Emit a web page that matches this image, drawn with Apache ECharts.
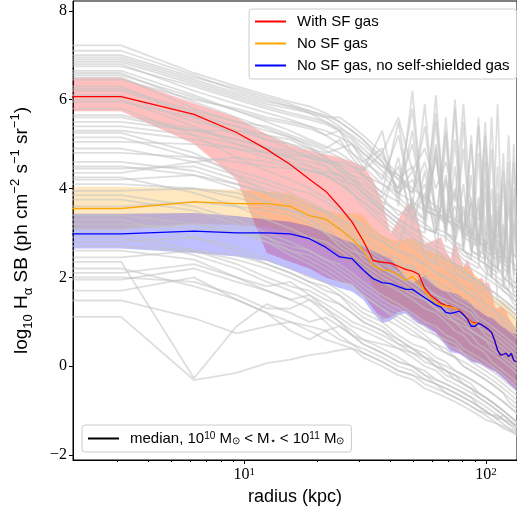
<!DOCTYPE html>
<html>
<head>
<meta charset="utf-8">
<script src="https://cdn.jsdelivr.net/npm/echarts@6/dist/echarts.min.js"></script>
<style>
  html, body { margin: 0; padding: 0; background: #fff; }
  #chart { width: 517px; height: 516px; }
</style>
</head>
<body>
<div id="chart"></div>
<script>
// radial bins (kpc) of the median profiles
const radius = [1.9, 3.1, 6.2, 9.3, 12.4, 15.5, 18.6, 21.7, 24.8, 27.9, 31, 34.1, 37.2, 40.3, 43.4,
  46.5, 49.6, 52.7, 55.8, 58.9, 62, 65.1, 68.2, 71.3, 74.4, 77.5, 80.6, 83.7, 86.8, 89.9,
  93, 96.1, 99.2, 102.3, 105.4, 108.5, 111.6, 114.7, 117.8, 120.9, 124, 127.1, 130.2, 133.3]

// With SF gas: median and 16-84 band
const withSF = [6.07, 6.07, 5.67, 5.26, 4.88, 4.54, 4.21, 3.94, 3.59, 3.25, 2.83, 2.38, 2.34, 2.32, 2.25,
  2.18, 2.14, 2.07, 1.75, 1.6, 1.51, 1.42, 1.37, 1.35, 1.3, 1.26, 1.18, 1.08, 1.0, 0.97,
  0.97, 0.93, 0.88, 0.83, 0.76, 0.58, 0.36, 0.25, 0.27, 0.29, 0.22, 0.29, 0.13, 0.1]
const withSFHi = [6.49, 6.49, 5.92, 5.6, 5.22, 4.97, 4.86, 4.77, 4.7, 4.61, 4.5, 4.2, 3.7, 2.98, 3.3,
  3.6, 3.69, 3.2, 2.75, 2.8, 2.85, 2.91, 2.6, 2.43, 2.83, 2.5, 2.23, 2.4, 2.2, 2.01,
  1.95, 2.0, 1.85, 1.9, 1.7, 1.35, 1.3, 1.35, 1.3, 1.25, 1.1, 1.0, 0.9, 0.85]
const withSFLo = [5.74, 5.74, 5.0, 4.2, 2.55, 2.35, 2.2, 2.0, 1.9, 1.85, 1.6, 1.3, 1.05, 1.1, 1.22,
  1.25, 1.1, 0.97, 0.92, 0.84, 0.76, 0.62, 0.5, 0.38, 0.33, 0.3, 0.24, 0.18, 0.13, 0.1,
  0.08, 0.05, 0.0, -0.04, -0.07, -0.1, -0.15, -0.2, -0.26, -0.31, -0.38, -0.43, -0.48, -0.53]

// No SF gas
const noSF = [3.55, 3.55, 3.7, 3.66, 3.66, 3.6, 3.39, 3.31, 3.09, 2.87, 2.61, 2.27, 2.17, 2.15, 2.05,
  1.93, 2.02, 1.87, 1.69, 1.53, 1.42, 1.37, 1.35, 1.33, 1.3, 1.25, 1.17, 1.07, 0.98, 0.95,
  0.97, 0.93, 0.88, 0.83, 0.76, 0.58, 0.36, 0.25, 0.27, 0.29, 0.22, 0.29, 0.13, 0.1]
const noSFHi = [4.04, 4.04, 4.0, 3.97, 3.93, 3.88, 3.67, 3.52, 3.42, 3.45, 3.4, 3.1, 2.95, 2.85, 2.83,
  2.86, 2.88, 2.8, 2.62, 2.58, 2.55, 2.53, 2.45, 2.38, 2.32, 2.28, 2.25, 2.23, 2.15, 2.05,
  2.0, 1.9, 1.8, 1.7, 1.6, 1.55, 1.5, 1.5, 1.45, 1.4, 1.35, 1.3, 1.2, 1.15]
const noSFLo = [3.08, 3.08, 3.2, 3.18, 3.12, 3.02, 2.85, 2.7, 2.5, 2.35, 2.15, 1.8, 1.55, 1.4, 1.35,
  1.3, 1.2, 1.1, 1.0, 0.92, 0.85, 0.72, 0.6, 0.48, 0.42, 0.38, 0.32, 0.26, 0.2, 0.16,
  0.13, 0.1, 0.06, 0.02, -0.02, -0.05, -0.1, -0.15, -0.2, -0.25, -0.3, -0.36, -0.41, -0.46]

// No SF gas, no self-shielded gas
const noSSG = [2.98, 2.98, 3.04, 3.0, 3.0, 2.98, 2.87, 2.68, 2.46, 2.42, 2.17, 1.97, 1.88, 1.86, 1.79,
  1.73, 1.73, 1.63, 1.54, 1.46, 1.38, 1.33, 1.21, 1.19, 1.21, 1.24, 1.16, 1.06, 0.9, 0.9,
  0.97, 0.93, 0.88, 0.83, 0.76, 0.58, 0.36, 0.25, 0.27, 0.29, 0.22, 0.29, 0.13, 0.1]
const noSSGHi = [3.43, 3.43, 3.45, 3.38, 3.3, 3.25, 3.15, 3.02, 2.88, 2.78, 2.7, 2.6, 2.5, 2.43, 2.2,
  2.0, 1.87, 1.95, 2.05, 1.9, 1.8, 1.71, 1.68, 1.66, 1.64, 1.6, 1.52, 1.48, 1.4, 1.3,
  1.26, 1.2, 1.15, 1.1, 1.1, 1.05, 0.98, 0.92, 0.88, 0.85, 0.8, 0.76, 0.74, 0.72]
const noSSGLo = [2.65, 2.65, 2.55, 2.47, 2.37, 2.18, 2.02, 1.86, 1.76, 1.68, 1.5, 1.2, 0.97, 1.03, 1.15,
  1.19, 1.05, 0.95, 0.9, 0.82, 0.74, 0.6, 0.45, 0.32, 0.3, 0.28, 0.22, 0.15, 0.1, 0.08,
  0.06, 0.02, -0.02, -0.06, -0.09, -0.12, -0.17, -0.22, -0.28, -0.33, -0.4, -0.45, -0.5, -0.55]

// individual galaxy profiles (grey)
const greyRadius = [1.9, 3.1, 6.2, 9.3, 12.4, 15.5, 18.6, 21.7, 24.8, 27.9, 31, 37.2, 43.4, 49.6,
  55.8, 62, 68.2, 74.4, 80.6, 86.8, 93, 99.2, 105.4, 111.6, 117.8, 124, 130.2, 136.4]
const greyProfiles = [
  [7.22, 7.22, 6.6, 6.3, 6.1, 5.95, 5.85, 5.7, 5.5, 5.3, 5.1, 4.6, 4.0, 5.8, 3.2, 5.5, 3.0, 4.5, 2.6, 3.8, 2.4, 2.8, 2.0, 3.5, 1.8, 2.3, 1.6, 1.5],
  [7.1, 7.1, 6.55, 6.2, 6.0, 5.85, 5.7, 5.5, 5.3, 5.0, 4.7, 4.2, 5.2, 3.6, 3.3, 4.8, 3.0, 2.8, 4.1, 2.6, 2.5, 3.9, 2.3, 2.2, 3.2, 2.0, 1.9, 1.8],
  [7.0, 7.0, 6.5, 6.25, 6.05, 5.9, 5.75, 5.6, 5.4, 5.15, 4.9, 4.5, 4.3, 3.9, 4.6, 3.5, 3.2, 3.6, 2.9, 3.1, 2.6, 2.5, 2.3, 2.2, 2.0, 1.9, 1.7, 1.6],
  [6.95, 6.95, 6.45, 6.15, 5.95, 5.85, 5.75, 5.65, 5.5, 5.3, 5.1, 4.7, 4.3, 4.0, 3.8, 3.6, 3.4, 3.3, 3.2, 3.1, 5.6, 3.0, 2.9, 2.8, 2.7, 5.2, 2.5, 2.4],
  [6.9, 6.9, 6.4, 6.1, 5.9, 5.8, 5.7, 5.6, 5.6, 5.4, 5.2, 4.8, 5.6, 4.4, 4.9, 4.0, 4.6, 3.7, 5.9, 3.4, 3.3, 5.2, 3.0, 2.9, 4.4, 2.6, 2.5, 2.4],
  [6.85, 6.85, 6.35, 6.05, 5.85, 5.7, 5.6, 5.5, 5.35, 5.2, 5.0, 4.6, 4.2, 4.5, 3.7, 5.7, 3.3, 3.1, 4.9, 2.9, 2.8, 2.7, 5.6, 2.5, 2.4, 2.3, 4.6, 2.1],
  [6.8, 6.8, 6.2, 5.9, 5.7, 5.55, 5.4, 5.2, 5.3, 4.8, 4.5, 4.1, 3.8, 3.5, 3.3, 6.1, 3.0, 2.8, 2.7, 5.2, 2.4, 2.3, 2.1, 2.0, 1.9, 1.7, 1.5, 1.4],
  [6.75, 6.75, 6.3, 6.0, 5.8, 5.65, 5.55, 5.45, 5.3, 5.1, 4.8, 4.4, 4.0, 5.0, 3.5, 3.4, 3.2, 6.0, 2.9, 2.8, 2.7, 4.2, 2.5, 2.4, 2.3, 2.2, 4.0, 2.0],
  [6.65, 6.65, 6.1, 5.75, 5.5, 5.3, 5.1, 4.95, 4.8, 4.6, 4.3, 3.9, 3.7, 3.4, 3.2, 3.0, 2.9, 2.7, 2.5, 2.4, 2.3, 2.1, 2.0, 1.9, 1.7, 1.6, 1.4, 1.3],
  [6.6, 6.6, 5.95, 5.6, 5.35, 5.15, 4.95, 4.7, 4.4, 4.2, 3.9, 3.5, 3.2, 3.0, 2.8, 2.6, 2.5, 2.3, 2.2, 2.0, 1.9, 1.8, 1.6, 1.5, 1.4, 1.3, 1.2, 1.1],
  [6.55, 6.55, 6.05, 5.75, 5.55, 5.45, 5.35, 5.2, 5.0, 4.8, 4.6, 4.9, 3.8, 5.3, 3.4, 4.7, 3.1, 5.1, 2.9, 4.3, 2.7, 4.9, 2.5, 3.9, 2.3, 4.6, 2.1, 2.0],
  [6.5, 6.5, 5.8, 5.5, 5.4, 5.2, 5.05, 4.9, 5.1, 4.7, 4.4, 5.3, 3.6, 6.2, 3.1, 3.0, 5.6, 2.7, 2.6, 2.4, 4.8, 2.2, 2.0, 4.5, 1.8, 1.7, 3.8, 1.5],
  [6.45, 6.45, 6.0, 5.8, 5.6, 5.5, 5.4, 5.3, 5.15, 5.0, 4.8, 4.5, 4.2, 3.9, 5.4, 3.5, 3.3, 3.2, 3.0, 5.0, 2.8, 2.7, 2.6, 2.5, 2.4, 3.6, 2.2, 2.1],
  [6.3, 6.3, 5.6, 5.2, 4.9, 4.7, 4.5, 4.3, 4.1, 3.9, 3.6, 3.2, 2.9, 2.7, 2.5, 2.3, 2.2, 2.0, 1.8, 1.7, 1.6, 1.4, 1.3, 1.2, 1.0, 0.9, 0.8, 0.7],
  [6.25, 6.25, 5.75, 5.5, 5.3, 5.15, 5.0, 4.85, 4.7, 4.5, 4.3, 3.9, 5.5, 3.5, 4.1, 3.2, 5.3, 3.0, 3.6, 2.8, 5.4, 2.6, 3.1, 2.4, 4.1, 2.2, 3.3, 2.0],
  [6.2, 6.2, 5.7, 5.4, 5.1, 4.9, 4.7, 4.5, 4.2, 3.9, 3.7, 3.4, 3.1, 2.9, 2.7, 2.6, 2.4, 2.3, 2.1, 2.0, 1.9, 1.8, 1.7, 1.6, 1.5, 1.4, 1.3, 1.2],
  [6.1, 6.1, 5.5, 5.3, 5.2, 5.0, 4.9, 4.8, 4.9, 5.0, 4.6, 4.3, 3.9, 4.2, 3.6, 3.5, 3.3, 3.9, 3.0, 2.9, 3.6, 2.6, 2.5, 5.9, 2.2, 2.1, 5.0, 1.9],
  [6.0, 6.0, 5.4, 5.0, 4.8, 4.7, 4.6, 4.5, 4.3, 4.0, 3.8, 3.5, 4.7, 3.1, 3.0, 4.9, 2.8, 5.8, 2.6, 2.5, 3.8, 2.3, 2.2, 2.1, 4.8, 1.9, 1.8, 1.7],
  [5.95, 5.95, 5.6, 5.4, 5.2, 5.1, 4.9, 4.7, 4.5, 4.3, 4.0, 3.6, 3.3, 3.1, 4.4, 2.8, 2.7, 2.6, 2.4, 2.3, 2.2, 4.6, 2.0, 1.9, 1.8, 1.7, 1.6, 1.5],
  [5.8, 5.8, 5.2, 4.7, 4.4, 4.2, 4.0, 3.8, 3.6, 3.3, 3.1, 2.8, 2.6, 2.5, 2.3, 2.1, 2.0, 1.8, 1.7, 1.6, 1.4, 1.3, 1.2, 1.1, 1.0, 0.9, 0.8, 0.7],
  [5.65, 5.65, 5.35, 5.1, 4.95, 4.85, 4.75, 4.65, 4.55, 4.4, 4.3, 4.1, 3.9, 3.7, 3.5, 3.4, 3.3, 3.2, 3.1, 3.0, 2.9, 2.8, 2.7, 2.6, 2.5, 2.4, 2.3, 2.2],
  [5.6, 5.6, 5.3, 5.1, 4.9, 4.8, 4.7, 4.6, 4.6, 4.5, 4.4, 4.8, 3.9, 4.4, 3.5, 5.0, 3.2, 4.0, 3.0, 3.7, 2.8, 5.5, 2.6, 3.3, 2.4, 3.8, 2.2, 2.1],
  [5.5, 5.5, 5.3, 5.3, 5.1, 5.0, 4.8, 4.6, 4.4, 4.3, 4.2, 3.8, 3.4, 3.6, 5.9, 3.1, 3.0, 2.9, 5.5, 2.6, 2.5, 2.4, 4.9, 2.2, 2.1, 4.2, 1.9, 1.8],
  [5.4, 5.4, 5.2, 5.0, 4.8, 4.6, 4.5, 4.4, 4.3, 4.1, 3.9, 3.5, 3.2, 2.9, 2.7, 2.5, 2.4, 2.3, 2.1, 2.0, 1.9, 1.8, 1.7, 1.6, 1.5, 1.4, 1.3, 1.2],
  [5.3, 5.3, 5.1, 4.9, 4.7, 4.55, 4.4, 4.3, 4.1, 3.9, 3.7, 3.3, 3.0, 2.8, 2.6, 2.4, 2.3, 2.1, 2.0, 1.9, 1.7, 1.6, 1.5, 1.4, 1.3, 1.2, 1.1, 1.0],
  [5.25, 5.25, 4.8, 4.3, 3.9, 3.6, 3.3, 3.0, 2.7, 2.5, 2.3, 2.0, 1.8, 1.6, 1.5, 1.3, 1.2, 1.0, 0.9, 0.8, 0.7, 0.6, 0.5, 0.4, 0.3, 0.2, 0.1, 0.0],
  [5.15, 5.15, 4.7, 4.4, 4.2, 4.0, 3.9, 3.7, 3.5, 3.3, 3.2, 2.9, 2.7, 3.8, 2.4, 2.3, 5.2, 2.1, 2.0, 1.9, 1.8, 1.7, 3.4, 1.5, 1.4, 1.3, 1.2, 1.1],
  [5.05, 5.05, 5.0, 4.9, 4.8, 4.75, 4.7, 4.6, 4.5, 4.2, 4.0, 3.7, 3.5, 3.3, 3.1, 3.0, 4.2, 2.8, 2.6, 2.5, 2.4, 2.3, 2.2, 3.6, 2.0, 1.9, 1.8, 1.7],
  [4.9, 4.9, 4.6, 4.3, 4.1, 3.9, 3.7, 3.5, 3.3, 3.1, 2.9, 2.6, 2.4, 2.2, 2.0, 1.8, 1.7, 1.5, 1.4, 1.3, 1.1, 1.0, 0.9, 0.8, 0.7, 0.6, 0.5, 0.4],
  [4.8, 4.8, 4.7, 4.6, 4.5, 4.45, 4.4, 4.35, 4.3, 4.2, 4.1, 3.8, 4.5, 3.3, 3.9, 3.0, 4.3, 2.8, 3.5, 2.6, 3.0, 2.4, 4.0, 2.2, 2.7, 2.0, 3.2, 1.8],
  [4.6, 4.6, 4.4, 4.1, 3.9, 3.7, 3.5, 3.3, 3.1, 2.8, 2.6, 2.2, 2.0, 1.8, 1.6, 1.4, 1.3, 1.1, 1.0, 0.8, 0.7, 0.6, 0.4, 0.3, 0.2, 0.1, 0.0, -0.1],
  [4.5, 4.5, 4.3, 4.0, 3.7, 3.5, 3.3, 3.1, 2.9, 2.7, 2.4, 2.1, 1.9, 1.7, 1.5, 1.3, 1.1, 1.0, 0.8, 0.7, 0.5, 0.4, 0.3, 0.2, 0.1, 0.0, -0.1, -0.2],
  [4.45, 4.45, 4.5, 4.2, 4.0, 3.8, 3.6, 3.45, 3.2, 3.0, 2.7, 2.4, 2.1, 1.9, 1.7, 1.6, 1.4, 1.3, 1.1, 1.0, 0.9, 0.7, 0.6, 0.5, 0.4, 0.3, 0.2, 0.1],
  [4.35, 4.35, 4.6, 4.7, 4.6, 4.5, 4.4, 4.3, 4.2, 4.1, 3.9, 3.6, 3.3, 3.1, 2.9, 2.7, 2.6, 2.5, 2.3, 2.2, 2.1, 2.0, 1.9, 1.8, 1.7, 1.6, 1.5, 1.4],
  [4.25, 4.25, 3.9, 3.6, 3.3, 3.1, 2.9, 2.8, 2.6, 2.4, 2.2, 1.9, 1.7, 1.5, 1.3, 1.2, 1.0, 0.8, 0.7, 0.5, 0.4, 0.3, 0.1, 0.0, -0.1, -0.2, -0.3, -0.4],
  [4.2, 4.2, 4.3, 4.1, 3.9, 3.8, 3.6, 3.5, 3.3, 3.2, 3.0, 2.8, 2.6, 2.4, 2.3, 2.1, 2.0, 1.9, 1.7, 1.6, 1.5, 1.4, 1.3, 1.2, 1.1, 1.0, 0.9, 0.8],
  [4.1, 4.1, 4.0, 3.9, 3.7, 3.5, 3.4, 3.2, 3.1, 2.9, 2.7, 2.5, 2.3, 2.2, 2.0, 1.9, 1.8, 1.6, 1.5, 1.4, 1.3, 1.2, 1.1, 1.0, 0.9, 0.8, 0.7, 0.6],
  [3.95, 3.95, 4.0, 3.8, 3.6, 3.5, 3.4, 3.3, 3.1, 2.9, 2.6, 2.3, 2.1, 2.3, 1.8, 1.6, 1.5, 1.4, 1.3, 1.2, 1.0, 0.9, 0.8, 0.7, 0.6, 0.5, 0.4, 0.3],
  [3.85, 3.85, 3.6, 3.3, 3.0, 2.8, 2.6, 2.4, 2.2, 2.0, 1.8, 1.5, 1.3, 1.1, 0.9, 0.7, 0.6, 0.5, 0.3, 0.2, 0.1, 0.0, -0.1, -0.2, -0.3, -0.4, -0.5, -0.6],
  [3.75, 3.75, 3.5, 3.2, 2.9, 2.6, 2.4, 2.2, 2.0, 1.8, 1.6, 1.3, 1.1, 0.9, 0.7, 0.5, 0.4, 0.2, 0.1, 0.0, -0.1, -0.2, -0.3, -0.4, -0.5, -0.6, -0.7, -0.8],
  [3.6, 3.6, 3.7, 3.6, 3.5, 3.4, 3.2, 3.0, 2.8, 2.6, 2.5, 2.2, 2.0, 1.9, 1.7, 1.5, 1.4, 1.3, 1.2, 1.0, 0.9, 0.8, 0.7, 0.6, 0.5, 0.4, 0.3, 0.2],
  [3.4, 3.4, 3.2, 3.0, 2.8, 2.5, 2.3, 2.1, 1.9, 1.8, 1.6, 1.3, 1.0, 0.8, 0.6, 0.5, 0.3, 0.2, 0.0, -0.1, -0.2, -0.3, -0.4, -0.5, -0.6, -0.7, -0.8, -0.9],
  [3.3, 3.3, 2.9, 2.6, 2.3, 2.1, 1.9, 1.8, 1.6, 1.4, 1.2, 1.0, 0.7, 0.5, 0.4, 0.2, 0.1, -0.1, -0.2, -0.3, -0.4, -0.5, -0.6, -0.7, -0.8, -0.9, -1.0, -1.1],
  [3.2, 3.2, 3.1, 3.0, 2.9, 2.7, 2.6, 2.4, 2.3, 2.1, 1.9, 1.6, 1.4, 1.2, 1.0, 0.9, 0.7, 0.6, 0.4, 0.3, 0.2, 0.1, 0.0, -0.1, -0.2, -0.3, -0.4, -0.5],
  [3.1, 3.1, 3.2, 3.1, 2.8, 2.6, 2.5, 2.3, 2.1, 1.9, 1.7, 1.4, 1.2, 1.0, 0.8, 0.7, 0.5, 0.4, 0.3, 0.1, 0.0, -0.1, -0.2, -0.3, -0.4, -0.5, -0.6, -0.7],
  [3.0, 3.0, 2.6, 2.3, 2.0, 1.8, 1.7, 1.5, 1.4, 1.2, 1.0, 0.8, 0.6, 0.4, 0.2, 0.1, -0.1, -0.2, -0.3, -0.4, -0.6, -0.7, -0.8, -0.9, -1.0, -1.1, -1.2, -1.3],
  [2.9, 2.9, 2.5, 2.2, 1.9, 1.7, 1.5, 1.3, 1.1, 0.9, 0.8, 0.6, 0.4, 0.2, 0.0, -0.1, -0.3, -0.4, -0.5, -0.6, -0.7, -0.8, -0.9, -1.0, -1.1, -1.2, -1.3, -1.4],
  [2.8, 2.8, 2.9, 2.7, 2.4, 2.2, 2.0, 1.9, 1.7, 1.5, 1.3, 1.1, 0.9, 0.7, 0.6, 0.4, 0.3, 0.2, 0.0, -0.1, -0.2, -0.3, -0.4, -0.5, -0.6, -0.8, -0.9, -1.0],
  [2.7, 2.7, 2.6, 2.4, 2.2, 2.0, 1.8, 1.6, 1.4, 1.2, 1.0, 0.8, 0.5, 0.3, 0.1, 0.0, -0.1, -0.3, -0.4, -0.5, -0.7, -0.8, -0.9, -1.0, -1.1, -1.2, -1.3, -1.35],
  [2.6, 2.6, 2.4, 2.0, 1.7, 1.5, 1.6, 1.4, 1.2, 1.0, 0.9, 0.7, 0.5, 0.4, 0.2, 0.0, -0.1, -0.2, -0.4, -0.5, -0.6, -0.7, -0.8, -0.9, -1.0, -1.1, -1.2, -1.3],
  [2.45, 2.45, 2.6, 2.5, 2.3, 2.1, 1.9, 1.7, 1.6, 1.3, 1.1, 0.9, 0.6, 0.4, 0.3, 0.1, 0.0, -0.1, -0.2, -0.3, -0.4, -0.5, -0.6, -0.7, -0.8, -0.9, -1.0, -1.1],
  [2.35, 2.35, -0.27, 0.9, 1.4, 1.2, 1.0, 1.1, 0.9, 0.7, 0.5, 0.3, 0.1, 0.0, -0.2, -0.3, -0.4, -0.5, -0.6, -0.7, -0.8, -0.9, -1.0, -1.1, -1.2, -1.3, -1.4, -1.5],
  [2.2, 2.2, 1.8, 1.5, 1.2, 1.0, 0.9, 0.8, 0.6, 0.5, 0.3, 0.1, -0.1, -0.2, -0.4, -0.5, -0.6, -0.7, -0.8, -0.9, -1.0, -1.05, -1.1, -1.15, -1.2, -1.25, -1.3, -1.35],
  [2.1, 2.1, 2.3, 2.0, 1.8, 1.9, 1.6, 1.3, 1.0, 0.8, 0.6, 0.4, 0.2, 0.0, -0.1, -0.3, -0.4, -0.5, -0.6, -0.7, -0.9, -1.0, -1.1, -1.2, -1.3, -1.4, -1.5, -1.6],
  [2.0, 2.0, 1.9, 1.6, 1.3, 1.3, 1.5, 1.2, 1.0, 0.7, 0.6, 0.5, 0.4, 0.3, 0.2, 0.0, -0.2, -0.3, -0.4, -0.5, -0.6, -0.7, -0.8, -0.9, -1.0, -1.1, -1.2, -1.3],
  [1.95, 1.95, 2.2, 1.9, 1.7, 1.5, 1.3, 1.0, 0.7, 0.5, 0.4, 0.2, 0.0, -0.1, -0.3, -0.4, -0.5, -0.6, -0.7, -0.8, -0.9, -1.0, -1.1, -1.1, -1.2, -1.3, -1.35, -1.4],
  [1.7, 1.7, 2.0, 1.5, 1.2, 0.8, 0.6, 0.8, 0.9, 0.7, 0.5, 0.3, 0.1, 0.0, -0.2, -0.4, -0.5, -0.6, -0.7, -0.8, -0.9, -1.0, -1.1, -1.2, -1.1, -1.2, -1.3, -1.4],
  [1.48, 1.48, 1.08, 0.74, 0.9, 1.0, 0.8, 0.6, 0.5, 0.4, 0.3, 0.1, -0.1, -0.2, -0.3, -0.4, -0.6, -0.7, -0.8, -0.9, -1.0, -1.1, -1.2, -1.3, -1.4, -1.45, -1.5, -1.55],
  [1.11, 1.11, -0.31, -0.15, 0.07, 0.15, 0.25, 0.3, 0.36, 0.4, 0.2, 0.0, -0.2, -0.3, -0.5, -0.6, -0.7, -0.8, -0.9, -1.0, -1.1, -1.2, -1.25, -1.3, -1.35, -1.4, -1.45, -1.5]
]

// axis ticks
const yTicks = [-2, 0, 2, 4, 6, 8]
const xMajorTicks = [10, 100]
const xMinorTicks = [3, 4, 5, 6, 7, 8, 9, 20, 30, 40, 50, 60, 70, 80, 90]

const sans = 'Liberation Sans'
const serif = 'Liberation Serif'
const xMin = 1.96
const xMax = 134.2

const pairs = (xs, ys) => xs.map((x, i) => [x, ys[i]])

const bandSeries = (lo, hi, fill) => ({
  type: 'custom',
  silent: true,
  clip: true,
  data: [[10, 0]],
  renderItem: (params, api) => {
    const top = radius.map((r, i) => api.coord([r, hi[i]]))
    const bottom = radius.map((r, i) => api.coord([r, lo[i]])).reverse()
    return {
      type: 'polygon',
      shape: { points: top.concat(bottom) },
      style: { fill: fill }
    }
  }
})

const medianSeries = (name, ys, color) => ({
  name: name,
  type: 'line',
  data: pairs(radius, ys),
  symbol: 'none',
  silent: true,
  color: color,
  lineStyle: { color: color, width: 1.3 }
})

const greySeries = greyProfiles.map(p => ({
  type: 'line',
  data: pairs(greyRadius, p),
  symbol: 'none',
  silent: true,
  lineStyle: { color: 'rgba(195,195,195,0.55)', width: 1.8 }
}))

const chart = echarts.init(document.getElementById('chart'))

const option = {
  animation: false,
  backgroundColor: '#fff',
  grid: {
    left: 73, top: 1, width: 446, height: 459,
    show: true, borderColor: '#000', borderWidth: 1, backgroundColor: 'transparent'
  },
  xAxis: [{
    type: 'log',
    min: xMin, max: xMax,
    name: 'radius (kpc)',
    nameLocation: 'middle',
    nameGap: 27,
    nameTextStyle: { fontFamily: sans, fontSize: 18, color: '#000' },
    axisLine: { onZero: false, lineStyle: { color: '#000', width: 1 } },
    axisTick: { customValues: xMajorTicks, length: 4, lineStyle: { color: '#000' } },
    axisLabel: {
      customValues: xMajorTicks,
      margin: 7,
      color: '#000',
      fontFamily: serif,
      fontSize: 16,
      formatter: v => '10{e|' + Math.round(Math.log10(v)) + '}',
      rich: { e: { fontFamily: serif, fontSize: 11, verticalAlign: 'top', lineHeight: 14 } }
    },
    splitLine: { show: false },
    minorTick: { show: false }
  }, {
    type: 'log',
    min: xMin, max: xMax,
    position: 'bottom',
    axisLine: { show: false, onZero: false },
    axisTick: { customValues: xMinorTicks, length: 2, lineStyle: { color: '#000' } },
    axisLabel: { show: false },
    splitLine: { show: false }
  }],
  yAxis: {
    type: 'value',
    min: -2.11, max: 8.22,
    name: 'log{sub|10} H{sub|α} SB (ph cm{sup|−2} s{sup|−1} sr{sup|−1})',
    nameLocation: 'middle',
    nameRotate: 90,
    nameGap: 38,
    nameTextStyle: {
      fontFamily: sans, fontSize: 19, color: '#000', lineHeight: 26,
      rich: {
        sub: { fontFamily: sans, fontSize: 13, lineHeight: 18, verticalAlign: 'bottom' },
        sup: { fontFamily: sans, fontSize: 13, lineHeight: 18, verticalAlign: 'top' }
      }
    },
    axisLine: { show: true, onZero: false, lineStyle: { color: '#000', width: 1 } },
    axisTick: { show: true, customValues: yTicks, length: 4, lineStyle: { color: '#000' } },
    axisLabel: {
      customValues: yTicks,
      margin: 6,
      color: '#000',
      fontFamily: serif,
      fontSize: 16,
      formatter: v => (v < 0 ? '\u2212' + Math.abs(v) : String(v))
    },
    splitLine: { show: false }
  },
  legend: [{
    data: ['With SF gas', 'No SF gas', 'No SF gas, no self-shielded gas'],
    orient: 'vertical',
    left: 249, top: 9,
    icon: 'rect', itemWidth: 31, itemHeight: 2, itemGap: 7,
    padding: [5, 7, 6, 6],
    backgroundColor: 'rgba(255,255,255,0.85)',
    borderColor: '#ccc', borderWidth: 1, borderRadius: 3,
    selectedMode: false,
    textStyle: { fontFamily: sans, fontSize: 15, color: '#000', lineHeight: 15, padding: [0, 0, 0, 6] }
  }, {
    data: ['median'],
    left: 82, top: 425,
    icon: 'rect', itemWidth: 31, itemHeight: 2,
    padding: [6, 7, 6, 6],
    backgroundColor: 'rgba(255,255,255,0.85)',
    borderColor: '#ccc', borderWidth: 1, borderRadius: 3,
    selectedMode: false,
    formatter: () => 'median, 10{sup|10} M{sub|⊙} < M{sub|⋆} < 10{sup|11} M{sub|⊙}',
    textStyle: {
      fontFamily: sans, fontSize: 15, color: '#000', lineHeight: 15, padding: [0, 0, 0, 6],
      rich: {
        sup: { fontFamily: sans, fontSize: 10, lineHeight: 12, verticalAlign: 'top', color: '#000' },
        sub: { fontFamily: sans, fontSize: 10, lineHeight: 12, verticalAlign: 'bottom', color: '#000' }
      }
    }
  }],
  series: [
    ...greySeries,
    bandSeries(withSFLo, withSFHi, 'rgba(255,0,0,0.25)'),
    bandSeries(noSFLo, noSFHi, 'rgba(255,165,0,0.25)'),
    bandSeries(noSSGLo, noSSGHi, 'rgba(0,0,255,0.25)'),
    medianSeries('With SF gas', withSF, '#ff0000'),
    medianSeries('No SF gas', noSF, '#ffa500'),
    medianSeries('No SF gas, no self-shielded gas', noSSG, '#0000ff'),
    { name: 'median', type: 'line', data: [], color: '#000', symbol: 'none', lineStyle: { color: '#000' } }
  ]
}

chart.setOption(option)
</script>
</body>
</html>
